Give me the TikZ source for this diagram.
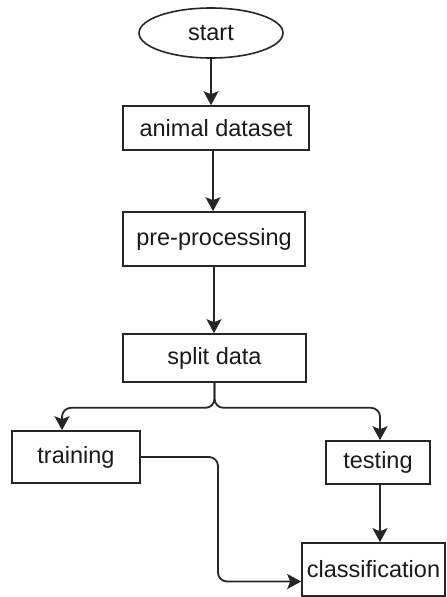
\documentclass[tikz,border=0pt]{standalone}
\usepackage{fontspec}
\setmainfont{Liberation Sans}
\usetikzlibrary{shapes.geometric,arrows.meta,calc}
\begin{document}
\begin{tikzpicture}[x=1pt,y=-1pt,
  box/.style={draw=black!85,line width=1.6pt,rectangle,inner sep=0pt,font=\fontsize{23.5}{27}\selectfont,text=black!90},
  oval/.style={draw=black!85,line width=1.6pt,ellipse,inner sep=0pt,font=\fontsize{23.5}{27}\selectfont,text=black!90},
  arr/.style={draw=black!85,line width=1.8pt,-{Stealth[length=14pt,width=15pt,inset=3pt]}},
  conn/.style={arr,rounded corners=9pt}]
\useasboundingbox (0,0) rectangle (447,597);
\node[oval,minimum width=144pt,minimum height=50pt] (start) at (211,33) {start};
\node[box,minimum width=186pt,minimum height=44pt] (animal) at (216,128) {animal dataset};
\node[box,minimum width=182pt,minimum height=54pt] (pre) at (214,239) {pre-processing};
\node[box,minimum width=183pt,minimum height=48pt] (split) at (214.5,358) {split data};
\node[box,minimum width=128pt,minimum height=52pt] (training) at (76,457) {training};
\node[box,minimum width=104pt,minimum height=43pt] (testing) at (378,462.5) {testing};
\node[box,minimum width=143pt,minimum height=53pt] (classification) at (373.5,569.5) {classification};
\coordinate (split junction) at ($(split.south)+(0,25)$);
\coordinate (train top) at ([xshift=-14pt]training.north);
\coordinate (bend) at (218,457);
\draw[arr] (start.south) -- (start.south |- animal.north);
\draw[arr] ([xshift=-3pt]animal.south) -- ([xshift=-3pt]animal.south |- pre.north);
\draw[arr] (pre.south) -- (pre.south |- split.north);
\draw[conn] (split.south) -- (split junction) -| (train top);
\draw[conn] (split.south) -- (split junction) -| ([xshift=2pt]testing.north);
\draw[conn] (training.east) -- (bend) |- ([yshift=-12pt]classification.west);
\draw[arr] ([xshift=2pt]testing.south) -- ([xshift=2pt]testing.south |- classification.north);
\end{tikzpicture}
\end{document}
